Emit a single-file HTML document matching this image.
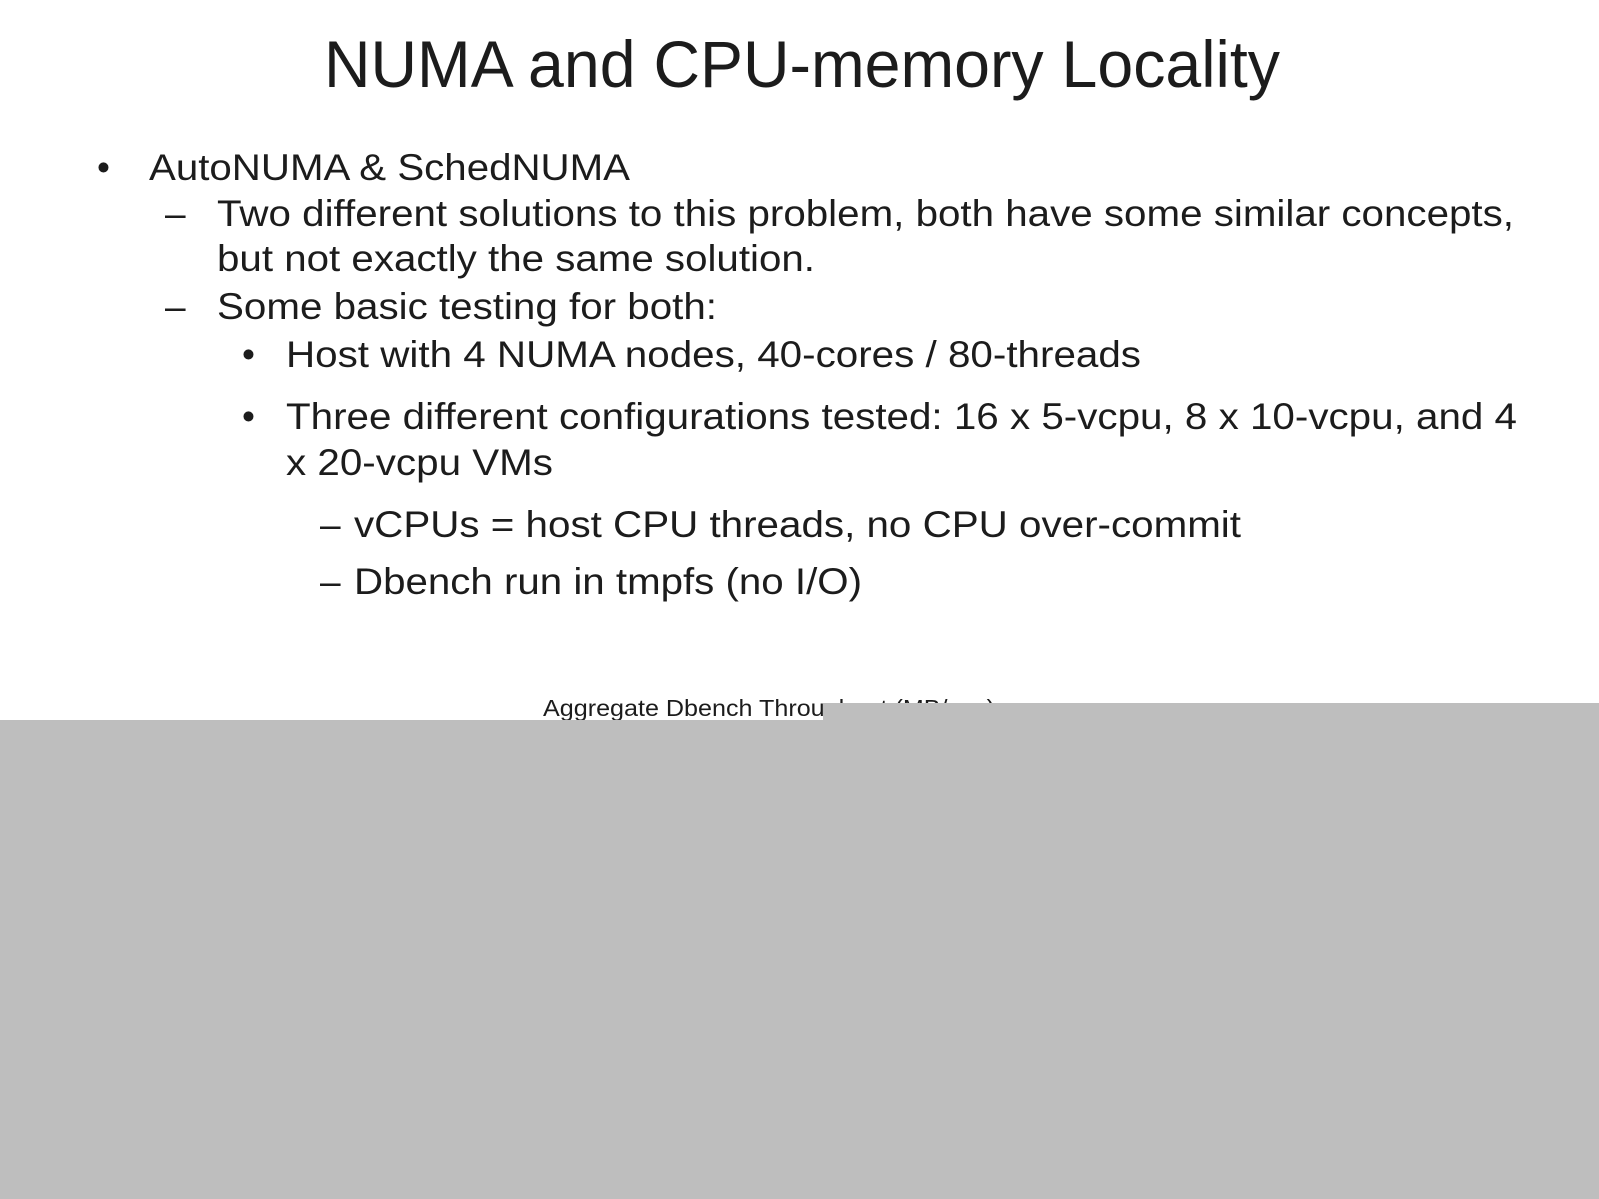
<!DOCTYPE html>
<html><head><meta charset="utf-8"><style>
html,body{margin:0;padding:0;background:#fff;width:1599px;height:1199px;overflow:hidden}
svg{display:block}
text{font-family:"Liberation Sans",sans-serif;fill:#1c1c1c}
</style></head><body>
<svg width="1599" height="1199" viewBox="0 0 1599 1199">
<text x="324" y="87" font-size="66" textLength="956" lengthAdjust="spacingAndGlyphs">NUMA and CPU-memory Locality</text>
<text x="97" y="180" font-size="37">•</text>
<text x="149" y="180" font-size="37" textLength="481" lengthAdjust="spacingAndGlyphs">AutoNUMA &amp; SchedNUMA</text>
<text x="165" y="226" font-size="37">–</text>
<text x="217" y="226" font-size="37" textLength="1297" lengthAdjust="spacingAndGlyphs">Two different solutions to this problem, both have some similar concepts,</text>
<text x="217" y="271" font-size="37" textLength="598" lengthAdjust="spacingAndGlyphs">but not exactly the same solution.</text>
<text x="165" y="319" font-size="37">–</text>
<text x="217" y="319" font-size="37" textLength="500" lengthAdjust="spacingAndGlyphs">Some basic testing for both:</text>
<text x="242" y="367" font-size="37">•</text>
<text x="286" y="367" font-size="37" textLength="855" lengthAdjust="spacingAndGlyphs">Host with 4 NUMA nodes, 40-cores / 80-threads</text>
<text x="242" y="429" font-size="37">•</text>
<text x="286" y="429" font-size="37" textLength="1231" lengthAdjust="spacingAndGlyphs">Three different configurations tested: 16 x 5-vcpu, 8 x 10-vcpu, and 4</text>
<text x="286" y="475" font-size="37" textLength="267" lengthAdjust="spacingAndGlyphs">x 20-vcpu VMs</text>
<text x="320" y="537" font-size="37">–</text>
<text x="354" y="537" font-size="37" textLength="887" lengthAdjust="spacingAndGlyphs">vCPUs = host CPU threads, no CPU over-commit</text>
<text x="320" y="594" font-size="37">–</text>
<text x="354" y="594" font-size="37" textLength="508" lengthAdjust="spacingAndGlyphs">Dbench run in tmpfs (no I/O)</text>
<text x="543" y="716" font-size="23" textLength="452" lengthAdjust="spacingAndGlyphs">Aggregate Dbench Throughput (MB/sec)</text>
<rect x="0" y="720" width="1599" height="479" fill="#bebebe"/>
<rect x="823" y="703" width="776" height="20" fill="#bebebe"/>
</svg>
</body></html>
